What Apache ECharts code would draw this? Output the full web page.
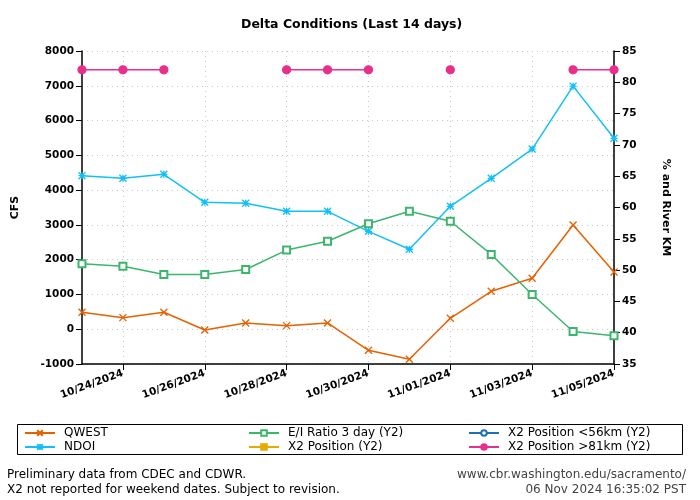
<!DOCTYPE html>
<html><head><meta charset="utf-8">
<script src="https://cdn.jsdelivr.net/npm/echarts@6/dist/echarts.min.js"></script>
<style>html,body{margin:0;padding:0;background:#fff}#c{width:700px;height:500px}</style>
</head><body><div id="c"></div>
<script>
const dates = ['10/23/2024','10/24/2024','10/25/2024','10/26/2024','10/27/2024','10/28/2024','10/29/2024','10/30/2024','10/31/2024','11/01/2024','11/02/2024','11/03/2024','11/04/2024','11/05/2024'];
const qwest = [488, 333, 488, -21, 180, 103, 180, -605, -864, 315, 1090, 1465, 2997, 1646];
const ndoi = [4415, 4340, 4455, 3650, 3620, 3390, 3390, 2815, 2300, 3535, 4340, 5180, 6990, 5490];
const eiRatio = [51.0, 50.6, 49.3, 49.3, 50.1, 53.2, 54.6, 57.4, 59.4, 57.8, 52.5, 46.1, 40.2, 39.5];
const x2Position = [null, null, null, null, null, null, null, null, null, null, null, null, null, null];
const x2Below56 = [null, null, null, null, null, null, null, null, null, null, null, null, null, null];
const x2Above81 = [82, 82, 82, null, null, 82, 82, 82, null, 82, null, null, 82, 82];

const xPath = 'path://M0,0L10,10M10,0L0,10';
const starPath = 'path://M0,0L10,10M10,0L0,10M5,0L5,10M0,5L10,5';
const FONT = 'DejaVu Sans';

const chart = echarts.init(document.getElementById('c'), null, {renderer: 'canvas'});
const oddOnly = (i) => i % 2 === 1;
function lineSeries(name, data, color, symbol, size, yIdx) {
  return {
    name, type: 'line', data, yAxisIndex: yIdx,
    symbol, symbolSize: size, showAllSymbol: true, connectNulls: false,
    lineStyle: {color, width: 1.5},
    itemStyle: {color, borderColor: color, borderWidth: 1.3},
    emphasis: {disabled: true}, animation: false
  };
}
const legendBase = {orient: 'vertical', top: 427, padding: 0, itemGap: 2, itemWidth: 30, itemHeight: 7,
  textStyle: {fontFamily: FONT, fontSize: 12, color: '#000', padding: [0, 0, 0, 4]}, selectedMode: false};
chart.setOption({
  animation: false,
  textStyle: {fontFamily: FONT},
  title: {text: 'Delta Conditions (Last 14 days)', left: 236, top: 13,
    textStyle: {fontFamily: FONT, fontSize: 12.5, fontWeight: 'bold', color: '#000'}},
  grid: {left: 82, right: 86, top: 51, bottom: 136},
  legend: [
    Object.assign({}, legendBase, {left: 24, data: ['QWEST', 'NDOI']}),
    Object.assign({}, legendBase, {left: 248, data: ['E/I Ratio 3 day (Y2)', 'X2 Position (Y2)']}),
    Object.assign({}, legendBase, {left: 468, data: ['X2 Position <56km (Y2)', 'X2 Position >81km (Y2)']})
  ],
  xAxis: {
    type: 'category', data: dates, boundaryGap: false,
    axisLine: {onZero: false, lineStyle: {color: '#000', width: 1.5}},
    axisTick: {interval: oddOnly, length: 6, lineStyle: {color: '#000'}},
    axisLabel: {interval: oddOnly, rotate: 20, fontFamily: FONT, fontWeight: 'bold', fontSize: 10.5, color: '#000', margin: 9},
    splitLine: {show: true, interval: oddOnly, lineStyle: {color: '#c8c8c8', type: [1, 4], width: 1}}
  },
  yAxis: [
    {type: 'value', min: -1000, max: 8000, interval: 1000, name: 'CFS', nameLocation: 'middle', nameGap: 61,
      nameTextStyle: {fontFamily: FONT, fontWeight: 'bold', fontSize: 11, color: '#000'},
      axisLine: {show: true, onZero: false, lineStyle: {color: '#000', width: 1.5}},
      axisTick: {show: true, length: 6, lineStyle: {color: '#000'}},
      axisLabel: {fontFamily: FONT, fontWeight: 'bold', fontSize: 10.5, color: '#000', margin: 8, formatter: (v) => String(v)},
      splitLine: {show: true, lineStyle: {color: '#c8c8c8', type: [1, 4], width: 1}}},
    {type: 'value', min: 35, max: 85, interval: 5, position: 'right', name: '% and River KM', nameLocation: 'middle', nameGap: 46, nameRotate: -90,
      nameTextStyle: {fontFamily: FONT, fontWeight: 'bold', fontSize: 11, color: '#000'},
      axisLine: {show: true, onZero: false, lineStyle: {color: '#000', width: 1.5}},
      axisTick: {show: true, length: 6, lineStyle: {color: '#000'}},
      axisLabel: {fontFamily: FONT, fontWeight: 'bold', fontSize: 10.5, color: '#000', margin: 8},
      splitLine: {show: false}}
  ],
  series: [
    lineSeries('QWEST', qwest, '#e66100', xPath, 7, 0),
    lineSeries('NDOI', ndoi, '#13bff7', starPath, 7, 0),
    lineSeries('E/I Ratio 3 day (Y2)', eiRatio, '#3cb66c', 'emptyRect', 7, 1),
    lineSeries('X2 Position (Y2)', x2Position, '#e8a900', 'rect', 8, 1),
    lineSeries('X2 Position <56km (Y2)', x2Below56, '#1f6fb4', 'emptyCircle', 7, 1),
    lineSeries('X2 Position >81km (Y2)', x2Above81, '#e8308a', 'circle', 8, 1)
  ],
  graphic: [
    {type: 'rect', shape: {x: 17.5, y: 424.5, width: 665, height: 30}, style: {fill: 'none', stroke: '#000', lineWidth: 1}},
    {type: 'text', left: 7, top: 467, style: {text: 'Preliminary data from CDEC and CDWR.\nX2 not reported for weekend dates. Subject to revision.', font: '12px "DejaVu Sans"', fill: '#000', lineHeight: 15}},
    {type: 'text', right: 14, top: 469, style: {text: 'www.cbr.washington.edu/sacramento/', font: '12px "DejaVu Sans"', fill: '#444'}},
    {type: 'text', right: 14, top: 484, style: {text: '06 Nov 2024 16:35:02 PST', font: '12px "DejaVu Sans"', fill: '#444'}}
  ]
});
</script></body></html>
